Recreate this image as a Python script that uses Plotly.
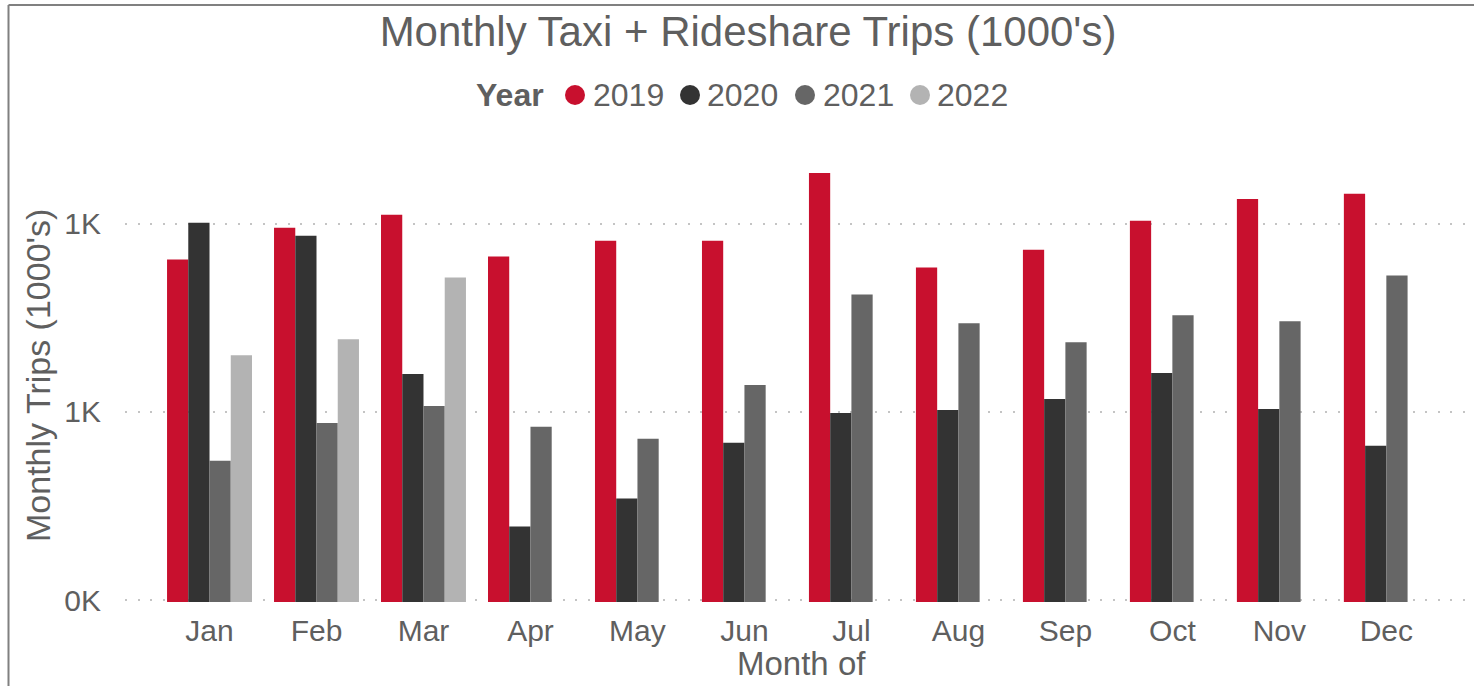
import plotly.graph_objects as go

months = ["Jan", "Feb", "Mar", "Apr", "May", "Jun", "Jul", "Aug", "Sep", "Oct", "Nov", "Dec"]
years = ["2019", "2020", "2021", "2022"]
trips_2019 = [6450, 9530, 11160, 6690, 8130, 8130, 18600, 5850, 7280, 10370, 13560, 14420]
trips_2020 = [10120, 8640, 1589, 246, 347, 686, 988, 1025, 1173, 1608, 1037, 661]
trips_2021 = [550, 874, 1076, 833, 720, 1390, 4210, 2958, 2345, 3260, 3030, 5310]
trips_2022 = [2003, 2434, 5180, None, None, None, None, None, None, None, None, None]
colors = ["#C8102E", "#333333", "#666666", "#B3B3B3"]
tick_vals = [100, 1000, 10000]
tick_text = ["0K", "1K", "1K"]

series = [trips_2019, trips_2020, trips_2021, trips_2022]
TXT = "#5f5f5f"
FONT = "Liberation Sans, Arial, sans-serif"

fig = go.Figure()
for yr, vals, col in zip(years, series, colors):
    fig.add_trace(go.Bar(x=months, y=vals, name=yr, marker=dict(color=col, line=dict(width=0)),
                         showlegend=False))

W, H = 1474, 686
L, R, T, B = 125, 1, 150, 84
pw, ph = W - L - R, H - T - B

def px(x):
    return (x - L) / pw

def py(y):
    return (H - B - y) / ph

# manual legend (circle swatches + text), positions in pixels
leg_y = 95
leg_circles = [575, 690, 805, 920]
leg_text_x = [591, 705, 821, 935]
r = 10

annotations = [
    dict(text="Monthly Trips (1000's)", textangle=-90, xref="paper", yref="paper",
         x=px(38), y=0.5, xanchor="center", yanchor="middle", showarrow=False,
         font=dict(size=34, color=TXT)),
    dict(text="Month of", xref="paper", yref="paper", x=px(801), y=py(663),
         xanchor="center", yanchor="middle", showarrow=False,
         font=dict(size=33, color=TXT)),
    dict(text="<b>Year</b>", xref="paper", yref="paper", x=px(474), y=py(leg_y),
         xanchor="left", yanchor="middle", showarrow=False, font=dict(size=32, color=TXT)),
]
shapes = [
    dict(type="line", xref="paper", yref="paper", x0=px(8.5), x1=px(8.5), y0=py(700), y1=py(5),
         line=dict(color="#808080", width=2)),
    dict(type="line", xref="paper", yref="paper", x0=px(8.5), x1=px(1480), y0=py(5), y1=py(5),
         line=dict(color="#808080", width=2)),
]
for yr, col, cx, tx in zip(years, colors, leg_circles, leg_text_x):
    shapes.append(dict(type="circle", xref="paper", yref="paper",
                       x0=px(cx - r), x1=px(cx + r), y0=py(leg_y + r), y1=py(leg_y - r),
                       fillcolor=col, line=dict(width=0)))
    annotations.append(dict(text=yr, xref="paper", yref="paper", x=px(tx), y=py(leg_y),
                            xanchor="left", yanchor="middle", showarrow=False,
                            font=dict(size=32, color=TXT)))

fig.update_layout(
    width=W, height=H,
    margin=dict(l=L, r=R, t=T, b=B, autoexpand=False),
    paper_bgcolor="white", plot_bgcolor="white",
    font=dict(family=FONT, color=TXT),
    barmode="group", bargap=0.206, bargroupgap=0,
    showlegend=False,
    title=dict(text="Monthly Taxi + Rideshare Trips (1000's)", font=dict(size=42, color=TXT),
               xref="container", yref="container", x=748 / W, y=1 - 31 / H,
               xanchor="center", yanchor="middle"),
    xaxis=dict(type="category", range=[-0.79, 11.81], showgrid=False, showline=False,
               zeroline=False, ticks="", tickfont=dict(size=30, color=TXT), ticklabelstandoff=8,
               automargin=False),
    yaxis=dict(type="log", range=[1.99, 4.392], tickvals=tick_vals, ticktext=tick_text,
               showgrid=True, gridcolor="#c4c4c4", gridwidth=2, griddash="2px,10.5px",
               showline=False, zeroline=False, ticks="", automargin=False,
               tickfont=dict(size=30, color=TXT), ticklabelstandoff=23),
    annotations=annotations,
    shapes=shapes,
)

fig.write_html("out.html", config={"displayModeBar": False},
               post_script="document.body.style.margin='0px';document.body.style.overflow='hidden';")
